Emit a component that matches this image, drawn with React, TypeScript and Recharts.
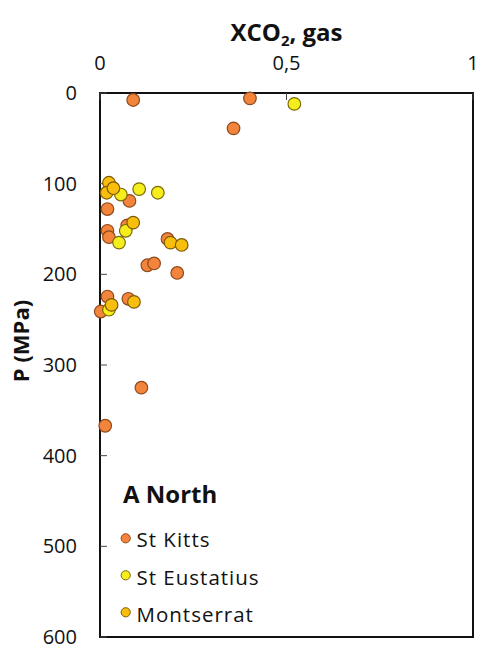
import React from "react";
import {
  ScatterChart,
  Scatter,
  XAxis,
  YAxis,
  ReferenceArea,
  Legend,
  Label,
} from "recharts";

const xTicks = [0, 0.5, 1];
const yTicks = [0, 100, 200, 300, 400, 500, 600];

const seriesNames = ["St Kitts", "St Eustatius", "Montserrat"];
const seriesFills = ["#F2843C", "#F6EE1C", "#F8BE0E"];
const seriesStrokes = ["#8E4A1C", "#7A6A08", "#7D5A06"];

const stKittsX = [0.089, 0.402, 0.358, 0.079, 0.02, 0.073, 0.02, 0.024, 0.181, 0.127, 0.145, 0.207, 0.02, 0.076, 0.002, 0.111, 0.014];
const stKittsP = [7.7, 5.9, 39, 119, 128, 146, 152, 159, 161, 190, 188, 198.5, 224.5, 227, 241, 325, 367];

const stEustatiusX = [0.521, 0.056, 0.105, 0.155, 0.069, 0.051, 0.024];
const stEustatiusP = [12, 112, 106, 110, 152, 165, 239];

const montserratX = [0.024, 0.018, 0.036, 0.089, 0.189, 0.219, 0.091, 0.031];
const montserratP = [99, 110, 105, 143, 165, 167.6, 230.4, 233.7];

const toPoints = (xs: number[], ps: number[]) => xs.map((x, i) => ({ x, p: ps[i] }));

const stKitts = toPoints(stKittsX, stKittsP);
const stEustatius = toPoints(stEustatiusX, stEustatiusP);
const montserrat = toPoints(montserratX, montserratP);

const FONT = "'Open Sans', 'DejaVu Sans', sans-serif";

const makeShape = (idx: number) => (props: any) => (
  <circle
    cx={props.cx}
    cy={props.cy}
    r={6.3}
    fill={seriesFills[idx]}
    stroke={seriesStrokes[idx]}
    strokeWidth={1.2}
  />
);

const LegendContent = () => (
  <svg width={200} height={170} style={{ display: "block", overflow: "visible" }}>
    <text x={28} y={33} fontFamily={FONT} fontWeight={700} fontSize={24} fill="#111">
      A North
    </text>
    {seriesNames.map((name, i) => (
      <g key={name}>
        <circle
          cx={30.7}
          cy={68.3 + i * 37}
          r={4.6}
          fill={seriesFills[i]}
          stroke={seriesStrokes[i]}
          strokeWidth={1}
        />
        <text
          x={41.5}
          y={77.3 + i * 37.5}
          fontFamily={FONT}
          fontSize={20.5}
          letterSpacing={1}
          fill="#111"
        >
          {name}
        </text>
      </g>
    ))}
  </svg>
);

const TitleLabel = (props: any) => {
  const vb = props.viewBox || {};
  const cx = vb.x + vb.width / 2;
  return (
    <text x={cx} y={41} textAnchor="middle" fontFamily={FONT} fontWeight={700} fontSize={24} fill="#111">
      XCO
      <tspan fontSize={15} dy={5}>2</tspan>
      <tspan dy={-5}>, gas</tspan>
    </text>
  );
};

const YTitle = () => {
  const x = 29;
  const y = 341;
  return (
    <text
      x={x}
      y={y}
      textAnchor="middle"
      transform={`rotate(-90 ${x} ${y})`}
      fontFamily={FONT}
      fontWeight={700}
      fontSize={22}
      fill="#111"
    >
      P  (MPa)
    </text>
  );
};

export default function App() {
  return (
    <div style={{ position: "absolute", left: 0, top: 0, width: 495, height: 652, background: "#fff" }}>
      <ScatterChart width={495} height={652} margin={{ top: 43, right: 22, bottom: 15, left: 40 }}>
        <XAxis
          type="number"
          dataKey="x"
          orientation="top"
          domain={[0, 1]}
          ticks={xTicks}
          height={50}
          axisLine={false}
          tickSize={-7}
          tickMargin={30}
          tickLine={{ stroke: "#444", strokeWidth: 1 }}
          tickFormatter={(v: number) => String(v).replace(".", ",")}
          tick={{ fontFamily: FONT, fontSize: 20, fill: "#111" }}
          interval={0}
        >
          <Label content={<TitleLabel />} />
        </XAxis>
        <YAxis
          type="number"
          dataKey="p"
          domain={[0, 600]}
          reversed
          ticks={yTicks}
          width={60}
          axisLine={false}
          tickSize={-7}
          tickMargin={30}
          tickLine={{ stroke: "#444", strokeWidth: 1 }}
          tick={{ fontFamily: FONT, fontSize: 20, fill: "#111" }}
          interval={0}
        >
          <Label content={<YTitle />} />
        </YAxis>
        <ReferenceArea
          x1={0}
          x2={1}
          y1={0}
          y2={600}
          fill="none"
          stroke="#111"
          strokeWidth={2}
          ifOverflow="visible"
        />
        <Legend
          content={<LegendContent />}
          wrapperStyle={{ position: "absolute", left: 95, top: 470, width: 0, height: 0, overflow: "visible" }}
        />
        <Scatter name={seriesNames[0]} data={stKitts} shape={makeShape(0)} isAnimationActive={false} />
        <Scatter name={seriesNames[1]} data={stEustatius} shape={makeShape(1)} isAnimationActive={false} />
        <Scatter name={seriesNames[2]} data={montserrat} shape={makeShape(2)} isAnimationActive={false} />
      </ScatterChart>
    </div>
  );
}
